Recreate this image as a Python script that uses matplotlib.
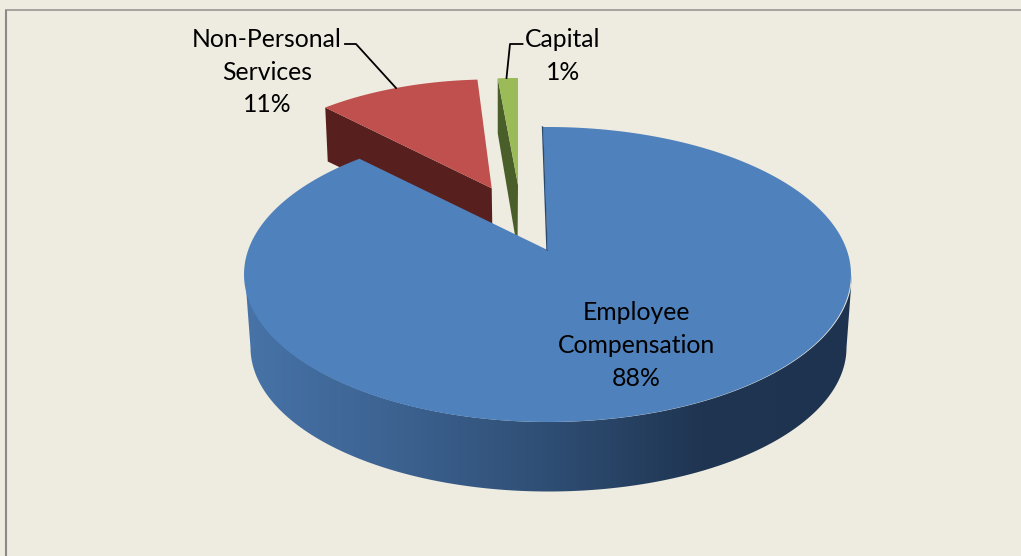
import numpy as np
import matplotlib
matplotlib.use('Agg')
import matplotlib.pyplot as plt
from matplotlib.colors import LinearSegmentedColormap
from matplotlib.patches import Polygon

categories = ['Employee\nCompensation', 'Non-Personal\nServices', 'Capital']
values = [87.6, 11.4, 1.0]

bg = '#EEEBE0'
tops = ['#4F81BD', '#C0504D', '#9BBB59']
sides = ['#2B4A70', '#57201E', '#4A5E2A']

# top face of the big slice, in pixels
cx, cy, rx, ry = 548.5, 274.5, 303.5, 147.5
# perspective moves the pie centre up from the ellipse centre
shift = 0.166
apex0 = np.array([547.5, 250.0])
start_angle = 0.0


def project(t):
    # t in degrees, clockwise from 12 o'clock
    t = np.radians(t)
    u, v = np.sin(t), np.cos(t)
    den = 1 + shift * v
    vv = (v + shift) / den
    uu = u * np.sqrt(1 - shift ** 2) / den
    return np.column_stack([cx + rx * uu, cy - ry * vv])


def face(t0, t1, apex, scale=1.0):
    arc = project(np.linspace(t0, t1, 200))
    arc = np.array(apex) + scale * (arc - np.array([cx, cy - ry * shift]))
    return np.vstack([[apex], arc])


fig = plt.figure(figsize=(10.21, 5.56), dpi=100, facecolor=bg)
ax = fig.add_axes([0, 0, 1, 1])
ax.set_xlim(0, 1021)
ax.set_ylim(556, 0)
ax.axis('off')

# frame
ax.plot([6, 6], [556, 9.5], color='#8a8a88', lw=1.5, solid_capstyle='butt')
ax.plot([5, 1021], [9.5, 9.5], color='#8f8f8a', lw=1.1, solid_capstyle='butt')

ends = start_angle + np.cumsum(values) * 3.6
# slices look a bit wider in the original's perspective, hence the small overlaps
blue_t0, blue_t1 = start_angle - 1.0, ends[0]
red_t0, red_t1 = ends[0], ends[1]
green_t0, green_t1 = ends[1] - 1.6, ends[2]

# red slice
red_apex = (491.7, 188.3)
red = face(red_t0, red_t1, red_apex, 0.885)
corner = red[1]
ax.add_patch(Polygon([corner, red_apex, (492.5, 240), corner + [2.5, 54]], fc=sides[1], ec='none'))
ax.add_patch(Polygon(red, fc=tops[1], ec='none'))

# green slice
green_apex = (518.0, 185.0)
green = face(green_t0, green_t1, green_apex, 0.87)
g_corner = green[1]
ax.add_patch(Polygon([g_corner, g_corner + [0, 55], (517.5, 250), green_apex], fc=sides[2], ec='none'))
ax.add_patch(Polygon(green, fc=tops[2], ec='none'))

# blue side, gradient clipped to the band under the top face
tt = np.linspace(90, 270, 300)
top_edge = np.column_stack([cx + rx * np.sin(np.radians(tt)), cy - ry * np.cos(np.radians(tt))])
low_edge = np.column_stack([cx + 298 * np.sin(np.radians(tt)), 347.5 - 144 * np.cos(np.radians(tt))])
band = Polygon(np.vstack([top_edge, low_edge[::-1]]), fc='none', ec='none')
ax.add_patch(band)
cmap = LinearSegmentedColormap.from_list('side', ['#4773A8', '#3C6290', '#2F4E74', '#1F3552', '#1E3350'])
im = ax.imshow(np.linspace(0, 1, 256)[None, :], cmap=cmap, extent=(245, 852, 500, 270),
               aspect='auto', zorder=2)
im.set_clip_path(band)
ax.set_xlim(0, 1021)
ax.set_ylim(556, 0)

# blue top face
blue = face(blue_t0, blue_t1, apex0)
ax.add_patch(Polygon(blue, fc=tops[0], ec='none', zorder=3))
ax.plot([blue[1][0] - 0.5, apex0[0] - 0.5], [blue[1][1], apex0[1]], color=sides[0], lw=1, zorder=3)

# labels
font = ['Lato', 'DejaVu Sans']
pct = [f'{v:.0f}%' for v in values]
ax.text(636, 345.5, f'{categories[0]}\n{pct[0]}', ha='center', va='center', fontsize=17.8,
        family=font, color='black', linespacing=1.5, zorder=5)
ax.text(267, 72, f'{categories[1]}\n{pct[1]}', ha='center', va='center', fontsize=17.8,
        family=font, color='black', linespacing=1.5, zorder=5)
ax.text(563, 56, f'{categories[2]}\n{pct[2]}', ha='center', va='center', fontsize=17.8,
        family=font, color='black', linespacing=1.5, zorder=5)

# leader lines
ax.plot([345, 356, 396], [44, 44, 88], color='black', lw=1.3, zorder=5)
ax.plot([522.5, 510, 506.5], [44, 44, 78], color='black', lw=1.3, zorder=5)

fig.savefig('out.png', dpi=100, facecolor=bg)
